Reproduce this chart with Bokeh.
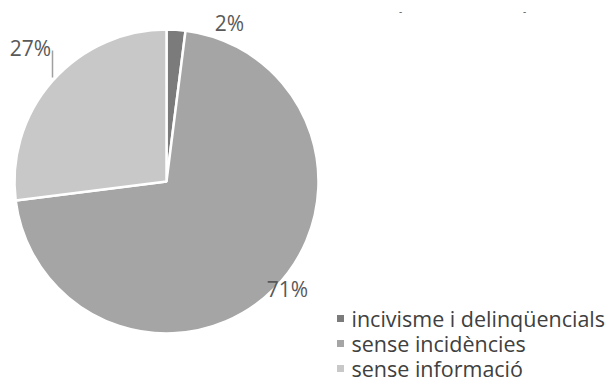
import numpy as np
from bokeh.plotting import figure
from bokeh.models import Range1d
from bokeh.core.properties import value
from bokeh.embed import file_html
from bokeh.resources import INLINE

# ---- data ----
categories = ["incivisme i delinqüencials", "sense incidències", "sense informació"]
shares = [2, 71, 27]
pct_labels = ["2%", "71%", "27%"]
colors = ["#7b7b7b", "#a5a5a5", "#c8c8c8"]

# ---- layout (screenshot pixel coordinates; data y = H - page y) ----
W, H = 607, 385
def Y(py):
    return H - py

p = figure(width=W, height=H, output_backend="svg", toolbar_location=None,
           x_range=Range1d(0, W), y_range=Range1d(0, H),
           min_border=0, outline_line_color=None)
p.axis.visible = False
p.grid.visible = False
p.background_fill_color = "white"
p.border_fill_color = "white"

cx, cy, r = 166, Y(181), 152
fr = np.array(shares, dtype=float) / sum(shares)
cum = np.concatenate([[0], np.cumsum(fr)])
starts = np.pi / 2 - cum[1:] * 2 * np.pi
ends = np.pi / 2 - cum[:-1] * 2 * np.pi
p.wedge(x=[cx] * 3, y=[cy] * 3, radius=r, start_angle=list(starts), end_angle=list(ends),
        fill_color=colors, line_color="white", line_width=2.5)

# percentage labels
lab_x = [229, 287, 30]
lab_y = [Y(22), Y(288), Y(47)]
p.text(x=lab_x, y=lab_y, text=pct_labels, text_align="center", text_baseline="middle",
       text_font=value("Open Sans"), text_font_size="21px", text_color="#595959")
# leader line for 27%
p.line(x=[52, 52], y=[Y(50), Y(77)], line_color="#a0a0a0", line_width=1.5)

# legend
leg_y = [Y(318), Y(343), Y(368)]
p.rect(x=[340] * 3, y=leg_y, width=7, height=7, fill_color=colors, line_color=None)
p.text(x=[351] * 3, y=leg_y, text=categories, text_align="left", text_baseline="middle",
       text_font=value("Open Sans"), text_font_size="21.5px", text_color="#404040")

# remnants of cropped title at the very top
p.text(x=[400, 524], y=[Y(10)] * 2, text=["-", "-"], text_align="center", text_baseline="middle",
       text_font=value("Open Sans"), text_font_size="10px", text_color="#595959")

open("out.html", "w").write(file_html(p, INLINE))
